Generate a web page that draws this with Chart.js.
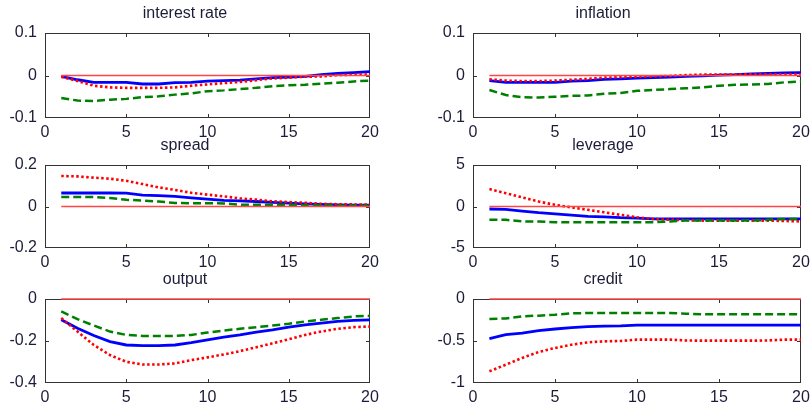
<!DOCTYPE html>
<html><head><meta charset="utf-8">
<script src="https://cdn.jsdelivr.net/npm/chart.js@4.4.1/dist/chart.umd.min.js"></script>
<style>
html,body{margin:0;padding:0;background:#fff;}
#wrap{position:relative;width:810px;height:412px;overflow:hidden;background:#fff;}
canvas{position:absolute;}
</style></head><body><div id="wrap"></div>
<script>
// ---------- DATA ----------
const periods = [1,2,3,4,5,6,7,8,9,10,11,12,13,14,15,16,17,18,19,20];
const zeroX = [1, 20];
const zeroY = [0, 0];
const xTicks = [0, 5, 10, 15, 20];
const xTickLabels = ['0', '5', '10', '15', '20'];

const panelTitles = ['interest rate', 'inflation', 'spread', 'leverage', 'output', 'credit'];

// interest rate
const interestBlue  = [-0.002,-0.010,-0.016,-0.016,-0.016,-0.020,-0.020,-0.017,-0.016,-0.013,-0.012,-0.011,-0.008,-0.005,-0.004,-0.002,0.002,0.005,0.007,0.009];
const interestRed   = [-0.003,-0.013,-0.024,-0.028,-0.029,-0.029,-0.029,-0.028,-0.024,-0.021,-0.018,-0.015,-0.011,-0.007,-0.005,-0.003,-0.002,0.001,0.002,0.002];
const interestGreen = [-0.053,-0.059,-0.060,-0.057,-0.055,-0.051,-0.049,-0.045,-0.042,-0.037,-0.035,-0.032,-0.029,-0.025,-0.023,-0.022,-0.019,-0.017,-0.014,-0.012];
const interestTicks = [-0.1, 0, 0.1];
const interestTickLabels = ['-0.1', '0', '0.1'];

// inflation
const inflationBlue  = [-0.012,-0.016,-0.016,-0.016,-0.016,-0.013,-0.012,-0.009,-0.008,-0.006,-0.005,-0.004,-0.002,-0.001,0.001,0.002,0.004,0.005,0.006,0.007];
const inflationRed   = [-0.009,-0.012,-0.013,-0.013,-0.012,-0.010,-0.008,-0.005,-0.004,-0.003,-0.002,-0.001,0.001,0.002,0.002,0.002,0.003,0.003,0.003,0.003];
const inflationGreen = [-0.034,-0.046,-0.051,-0.052,-0.050,-0.048,-0.047,-0.043,-0.041,-0.036,-0.034,-0.032,-0.030,-0.028,-0.024,-0.022,-0.021,-0.020,-0.016,-0.014];
const inflationTicks = [-0.1, 0, 0.1];
const inflationTickLabels = ['-0.1', '0', '0.1'];

// spread
const spreadBlue  = [0.065,0.065,0.065,0.065,0.064,0.055,0.052,0.049,0.042,0.036,0.030,0.027,0.024,0.020,0.016,0.013,0.010,0.008,0.007,0.006];
const spreadRed   = [0.147,0.145,0.139,0.134,0.124,0.108,0.092,0.080,0.066,0.057,0.049,0.039,0.033,0.025,0.021,0.018,0.013,0.011,0.010,0.009];
const spreadGreen = [0.046,0.046,0.046,0.041,0.032,0.029,0.024,0.017,0.016,0.016,0.015,0.009,0.008,0.008,0.008,0.006,0.005,0.004,0.004,0.003];
const spreadTicks = [-0.2, 0, 0.2];
const spreadTickLabels = ['-0.2', '0', '0.2'];

// leverage
const leverageBlue  = [-0.3,-0.35,-0.55,-0.75,-0.9,-1.05,-1.2,-1.25,-1.35,-1.4,-1.5,-1.5,-1.5,-1.5,-1.5,-1.5,-1.5,-1.5,-1.5,-1.5];
const leverageRed   = [2.1,1.6,1.1,0.6,0.2,-0.1,-0.4,-0.7,-1.0,-1.3,-1.5,-1.6,-1.65,-1.7,-1.7,-1.7,-1.7,-1.7,-1.75,-1.8];
const leverageGreen = [-1.6,-1.6,-1.8,-1.8,-1.9,-1.9,-1.9,-1.9,-1.9,-1.9,-1.9,-1.8,-1.7,-1.7,-1.7,-1.7,-1.7,-1.6,-1.5,-1.5];
const leverageTicks = [-5, 0, 5];
const leverageTickLabels = ['-5', '0', '5'];

// output
const outputBlue  = [-0.099,-0.139,-0.174,-0.203,-0.219,-0.222,-0.222,-0.219,-0.208,-0.195,-0.182,-0.171,-0.158,-0.147,-0.134,-0.123,-0.115,-0.107,-0.102,-0.099];
const outputRed   = [-0.091,-0.155,-0.219,-0.267,-0.299,-0.312,-0.312,-0.307,-0.291,-0.278,-0.264,-0.248,-0.230,-0.211,-0.192,-0.171,-0.155,-0.142,-0.134,-0.131];
const outputGreen = [-0.059,-0.096,-0.126,-0.155,-0.171,-0.176,-0.176,-0.176,-0.171,-0.160,-0.150,-0.142,-0.134,-0.126,-0.118,-0.107,-0.099,-0.091,-0.083,-0.080];
const outputTicks = [-0.4, -0.2, 0];
const outputTickLabels = ['-0.4', '-0.2', '0'];

// credit
const creditBlue  = [-0.472,-0.425,-0.405,-0.377,-0.357,-0.341,-0.330,-0.322,-0.320,-0.312,-0.310,-0.310,-0.310,-0.310,-0.310,-0.310,-0.310,-0.310,-0.310,-0.310];
const creditRed   = [-0.861,-0.782,-0.702,-0.631,-0.583,-0.544,-0.516,-0.504,-0.500,-0.484,-0.484,-0.484,-0.494,-0.496,-0.496,-0.496,-0.496,-0.494,-0.484,-0.484];
const creditGreen = [-0.238,-0.232,-0.206,-0.198,-0.187,-0.170,-0.167,-0.167,-0.167,-0.167,-0.167,-0.167,-0.175,-0.183,-0.183,-0.183,-0.183,-0.183,-0.183,-0.183];
const creditTicks = [-1, -0.5, 0];
const creditTickLabels = ['-1', '-0.5', '0'];

// ---------- LAYOUT ----------
const rows = [
  {plotTop: 33, plotBottom: 118},
  {plotTop: 165, plotBottom: 248},
  {plotTop: 299, plotBottom: 383}
];
const cols = [
  {colX: 0, plotLeft: 45, plotRight: 370},
  {colX: 405, plotLeft: 473, plotRight: 801}
];
const TOPSPACE = 40, BOTTOMSPACE = 30, CANVAS_W = 430;
const TEXT_COLOR = '#1c1c38';
const FONT = 'Liberation Sans, Arial, sans-serif';

const panels = [
  {title: panelTitles[0], blue: interestBlue,  red: interestRed,  green: interestGreen,  ticks: interestTicks,  labels: interestTickLabels},
  {title: panelTitles[1], blue: inflationBlue, red: inflationRed, green: inflationGreen, ticks: inflationTicks, labels: inflationTickLabels},
  {title: panelTitles[2], blue: spreadBlue,    red: spreadRed,    green: spreadGreen,    ticks: spreadTicks,    labels: spreadTickLabels},
  {title: panelTitles[3], blue: leverageBlue,  red: leverageRed,  green: leverageGreen,  ticks: leverageTicks,  labels: leverageTickLabels},
  {title: panelTitles[4], blue: outputBlue,    red: outputRed,    green: outputGreen,    ticks: outputTicks,    labels: outputTickLabels},
  {title: panelTitles[5], blue: creditBlue,    red: creditRed,    green: creditGreen,    ticks: creditTicks,    labels: creditTickLabels}
];

const framePlugin = {
  id: 'frame',
  beforeDatasetsDraw(chart) {
    const {ctx, chartArea: a, scales} = chart;
    ctx.save();
    ctx.strokeStyle = '#333333';
    ctx.lineWidth = 1;
    ctx.strokeRect(Math.round(a.left) + 0.5, Math.round(a.top) + 0.5, Math.round(a.right - a.left) - 1, Math.round(a.bottom - a.top) - 1);
    const L = 4;
    scales.x.ticks.forEach(t => {
      const px = Math.round(scales.x.getPixelForValue(t.value)) + 0.5;
      if (px <= a.left + 1 || px >= a.right - 1) return;
      ctx.beginPath();
      ctx.moveTo(px, a.bottom); ctx.lineTo(px, a.bottom - L);
      ctx.moveTo(px, a.top); ctx.lineTo(px, a.top + L);
      ctx.stroke();
    });
    scales.y.ticks.forEach(t => {
      const py = Math.round(scales.y.getPixelForValue(t.value)) + 0.5;
      if (py <= a.top + 1 || py >= a.bottom - 1) return;
      ctx.beginPath();
      ctx.moveTo(a.left, py); ctx.lineTo(a.left + L, py);
      ctx.moveTo(a.right, py); ctx.lineTo(a.right - L, py);
      ctx.stroke();
    });
    ctx.restore();
  }
};

const wrap = document.getElementById('wrap');
panels.forEach((p, i) => {
  const r = rows[Math.floor(i / 2)], c = cols[i % 2];
  const canvasTop = r.plotTop - TOPSPACE;
  const plotH = r.plotBottom - r.plotTop;
  const cv = document.createElement('canvas');
  cv.width = CANVAS_W; cv.height = plotH + TOPSPACE + BOTTOMSPACE;
  cv.style.left = c.colX + 'px'; cv.style.top = canvasTop + 'px';
  cv.style.width = CANVAS_W + 'px'; cv.style.height = cv.height + 'px';
  wrap.appendChild(cv);
  const yW = c.plotLeft - c.colX;
  const rightPad = c.colX + CANVAS_W - c.plotRight;
  const lo = p.ticks[0], hi = p.ticks[p.ticks.length - 1];
  const toXY = arr => periods.map((x, k) => ({x: x, y: arr[k]}));
  new Chart(cv, {
    type: 'line',
    data: {
      datasets: [
        {data: zeroX.map((x, k) => ({x: x, y: zeroY[k]})), borderColor: 'rgb(255,70,70)', borderWidth: 1.5, pointRadius: 0, order: 1},
        {data: toXY(p.green), borderColor: '#008000', borderWidth: 2.5, borderDash: [8, 4], pointRadius: 0, order: 2},
        {data: toXY(p.red), borderColor: '#ff0000', borderWidth: 2.6, borderDash: [2.5, 2.5], pointRadius: 0, order: 3},
        {data: toXY(p.blue), borderColor: '#0000ff', borderWidth: 2.8, pointRadius: 0, order: 4}
      ]
    },
    options: {
      responsive: false, animation: false, events: [],
      layout: {padding: {left: 0, right: rightPad, top: 0, bottom: 0}},
      elements: {line: {tension: 0, borderCapStyle: 'butt'}},
      datasets: {line: {clip: false}},
      plugins: {
        legend: {display: false}, tooltip: {enabled: false},
        title: {display: true, text: p.title, color: TEXT_COLOR,
          font: {family: FONT, size: 16, weight: 'normal', lineHeight: 1.2},
          padding: {top: 11.4, bottom: TOPSPACE - 11.4 - 19.2}}
      },
      scales: {
        x: {type: 'linear', min: 0, max: 20,
          grid: {display: false, drawTicks: false}, border: {display: false},
          afterBuildTicks: s => { s.ticks = xTicks.map(v => ({value: v})); },
          afterFit: s => { s.height = BOTTOMSPACE; },
          ticks: {color: TEXT_COLOR, font: {family: FONT, size: 16}, padding: 5, maxRotation: 0,
            callback: (v) => xTickLabels[xTicks.indexOf(v)]}
        },
        y: {type: 'linear', min: lo, max: hi,
          grid: {display: false, drawTicks: false}, border: {display: false},
          afterBuildTicks: s => { s.ticks = p.ticks.map(v => ({value: v})); },
          afterFit: s => { s.width = yW; },
          ticks: {color: TEXT_COLOR, font: {family: FONT, size: 16}, padding: 8,
            callback: (v) => p.labels[p.ticks.indexOf(v)]}
        }
      }
    },
    plugins: [framePlugin]
  });
});
</script>
</body></html>
